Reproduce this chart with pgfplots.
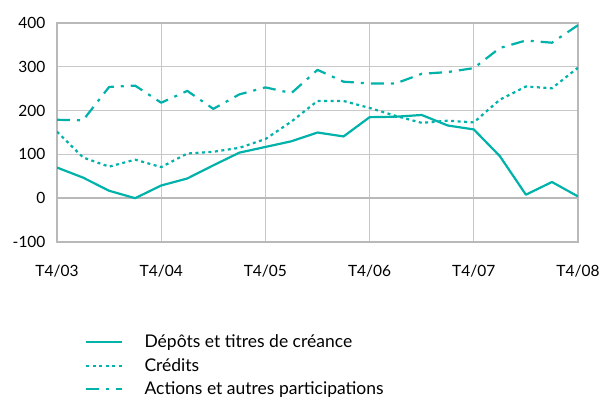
\documentclass[border=0pt]{standalone}
\usepackage{pgfplots}
\pgfplotsset{compat=1.18}
\usepackage{fontspec}
\setmainfont{Lato}
\definecolor{teal1}{RGB}{0,178,170}
\definecolor{gridg}{RGB}{200,200,200}
\definecolor{frameg}{RGB}{185,185,185}
\begin{document}
\begin{tikzpicture}[x=1pt,y=1pt]
\useasboundingbox (0,0) rectangle (604,407);
\begin{axis}[
  at={(57pt,165pt)}, anchor=south west,
  scale only axis, width=521pt, height=219pt,
  xmin=0, xmax=20, ymin=-100, ymax=400,
  xtick={0,4,8,12,16,20},
  xticklabels={T4/03,T4/04,T4/05,T4/06,T4/07,T4/08},
  ytick={-100,0,100,200,300,400},
  yticklabels={-100,0,100,200,300,400},
  major tick length=0,
  grid=major,
  major grid style={gridg, line width=1.2pt},
  axis line style={frameg, line width=2pt},
  tick label style={font=\fontsize{15.5}{18}\selectfont, text=black},
  xticklabel style={yshift=-20pt},
  yticklabel style={xshift=-8pt},
  legend style={draw=none, fill=none, at={(0.054,-0.415)}, anchor=north west,
    font=\fontsize{17.5}{21}\selectfont, row sep=5pt, inner sep=0pt,
    cells={anchor=west}},
  legend image code/.code={\draw[#1] (0pt,0pt) -- (36pt,0pt);},
]
\draw[frameg, line width=2pt] (axis cs:0,0) -- (axis cs:20,0);
\addplot[teal1, no marks, line width=2.2pt, line join=round] coordinates {(0,70)(1,47)(2,17)(3,0)(4,29)(5,45)(6,75)(7,104)(8,117)(9,130)(10,150)(11,141)(12,185)(13,186)(14,190)(15,166)(16,157)(17,96)(18,8)(19,37)(20,4)};
\addlegendentry{\hspace{19pt}Dépôts et titres de créance}
\addplot[teal1, no marks, line width=2.2pt, line join=round, dash pattern=on 3pt off 3.5pt] coordinates {(0,152)(1,93)(2,72)(3,88)(4,71)(5,102)(6,106)(7,115)(8,135)(9,175)(10,222)(11,222)(12,206)(13,188)(14,172)(15,177)(16,173)(17,225)(18,255)(19,251)(20,298)};
\addlegendentry{\hspace{19pt}Crédits}
\addplot[teal1, no marks, line width=2.2pt, line join=round, dash pattern=on 13pt off 7pt on 3pt off 7pt] coordinates {(0,179)(1,178)(2,254)(3,257)(4,218)(5,245)(6,204)(7,237)(8,253)(9,240)(10,293)(11,266)(12,262)(13,262)(14,284)(15,288)(16,297)(17,343)(18,360)(19,355)(20,395)};
\addlegendentry{\hspace{19pt}Actions et autres participations}
\end{axis}
\end{tikzpicture}
\end{document}
